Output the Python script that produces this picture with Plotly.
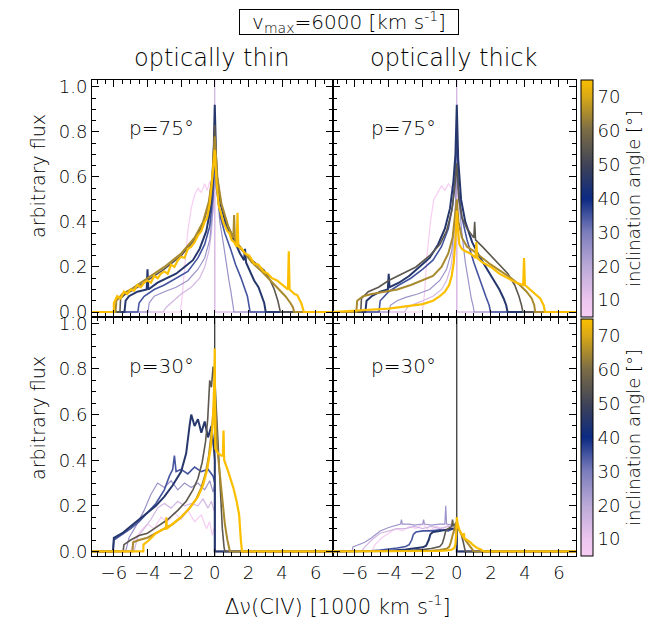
import plotly.graph_objects as go
from plotly.subplots import make_subplots
from plotly.colors import sample_colorscale

FONT = "DejaVu Sans"
WEIGHT = 200

# inclination angles of the plotted profiles [deg]
angles = [5, 15, 25, 35, 45, 55, 65, 75]
line_widths = [1.2, 1.2, 1.2, 1.6, 2.0, 1.6, 2.0, 2.2]

# ---------------- optically thin, p = 75 ----------------
thin75_x = [
    [-7.3, -2.05, -1.95, -1.8, -1.6, -1.4, -1.2, -1.0, -0.8, -0.6, -0.45, -0.3, -0.15, -0.05, 0, 0, 7.0],
    [-7.3, -3.07, -2.9, -2.6, -2.0, -1.4, -0.9, -0.6, -0.35, -0.2, -0.1, -0.03, 0, 0, 7.0],
    [-7.3, -3.97, -3.9, -3.6, -3.0, -2.3, -1.6, -1.0, -0.6, -0.3, -0.12, 0, 0.14, 0.3, 0.54, 0.7, 0.84, 0.96, 1.04, 1.14, 7.0],
    [-7.3, -4.57, -4.5, -4.2, -3.6, -3.0, -2.3, -1.6, -1.0, -0.6, -0.3, -0.1, 0, 0.1, 0.34, 0.6, 0.94, 1.24, 1.54, 1.8, 1.94, 2.1, 7.0],
    [-7.3, -5.37, -5.3, -5.1, -4.6, -4.05, -4.0, -3.95, -3.4, -2.8, -2.3, -1.8, -1.3, -0.9, -0.5, -0.25, -0.1, 0, 0.1, 0.34, 0.7, 1.14, 1.5, 1.74, 1.8, 1.86, 2.1, 2.34, 2.6, 2.74, 2.94, 3.03, 7.0],
    [-7.3, -5.64, -5.6, -5.3, -4.8, -4.0, -3.0, -2.0, -1.2, -0.7, -0.35, -0.15, 0, 0.15, 0.4, 0.8, 1.3, 1.9, 2.5, 2.94, 3.3, 3.54, 3.75, 3.9, 7.0],
    [-7.3, -5.9, -5.85, -5.5, -5.0, -4.0, -3.0, -2.0, -1.2, -0.7, -0.35, -0.15, 0, 0.15, 0.4, 0.8, 1.1, 1.15, 1.2, 1.6, 2.2, 2.8, 3.3, 3.8, 4.2, 4.5, 4.65, 4.72, 7.0],
    [-7.3, -6.0, -6.0, -5.8, -5.6, -5.4, -5.2, -5.0, -4.8, -4.6, -4.4, -4.2, -4.0, -3.8, -3.6, -3.4, -3.2, -3.0, -2.8, -2.6, -2.4, -2.2, -2.0, -1.8, -1.6, -1.4, -1.2, -1.0, -0.8, -0.6,
     -0.45, -0.3, -0.2, -0.1, 0, 0.1, 0.24, 0.4, 0.5, 0.62, 0.74, 0.87, 1.0, 1.15, 1.3, 1.35, 1.4,
     1.6, 1.8, 2.05, 2.34, 2.6, 2.9, 3.15, 3.4, 3.7, 3.94, 4.15, 4.35, 4.4, 4.45, 4.6, 4.74, 4.9, 5.0, 5.14, 5.3, 7.0],
]
thin75_y = [
    [0, 0, 0.06, 0.2, 0.36, 0.46, 0.52, 0.55, 0.53, 0.57, 0.54, 0.58, 0.55, 0.6, 0.62, 0, 0],
    [0, 0, 0.02, 0.04, 0.08, 0.11, 0.15, 0.2, 0.27, 0.35, 0.46, 0.7, 1.1, 0, 0],
    [0, 0, 0.04, 0.07, 0.09, 0.11, 0.14, 0.19, 0.24, 0.32, 0.45, 0.66, 0.54, 0.4, 0.29, 0.2, 0.14, 0.09, 0.05, 0, 0],
    [0, 0, 0.04, 0.07, 0.1, 0.12, 0.15, 0.18, 0.24, 0.3, 0.38, 0.52, 0.7, 0.55, 0.42, 0.35, 0.28, 0.21, 0.155, 0.1, 0.07, 0, 0],
    [0, 0, 0.05, 0.07, 0.09, 0.1, 0.19, 0.1, 0.13, 0.15, 0.17, 0.2, 0.23, 0.28, 0.36, 0.46, 0.6, 0.92, 0.62, 0.48, 0.38, 0.32, 0.26, 0.23, 0.28, 0.22, 0.18, 0.14, 0.11, 0.08, 0.04, 0, 0],
    [0, 0, 0.06, 0.08, 0.1, 0.14, 0.19, 0.25, 0.32, 0.39, 0.48, 0.6, 0.83, 0.58, 0.47, 0.38, 0.3, 0.25, 0.21, 0.185, 0.14, 0.1, 0.05, 0, 0],
    [0, 0, 0.05, 0.08, 0.1, 0.15, 0.2, 0.26, 0.33, 0.4, 0.49, 0.6, 0.78, 0.6, 0.48, 0.38, 0.33, 0.43, 0.32, 0.28, 0.22, 0.18, 0.14, 0.1, 0.07, 0.04, 0.02, 0, 0],
    [0, 0, 0.04, 0.07, 0.06, 0.09, 0.08, 0.1, 0.095, 0.12, 0.11, 0.13, 0.14, 0.13, 0.16, 0.15, 0.17, 0.18, 0.17, 0.21, 0.2, 0.23, 0.245, 0.24, 0.28, 0.29, 0.31, 0.34, 0.36, 0.4,
     0.42, 0.48, 0.55, 0.62, 0.72, 0.58, 0.47, 0.43, 0.4, 0.38, 0.36, 0.35, 0.32, 0.31, 0.29, 0.44, 0.29,
     0.28, 0.26, 0.25, 0.215, 0.21, 0.18, 0.17, 0.15, 0.14, 0.125, 0.11, 0.1, 0.27, 0.1, 0.09, 0.08, 0.075, 0.06, 0.04, 0, 0],
]

# ---------------- optically thick, p = 75 ----------------
thick75_x = [
    [-7.3, -2.02, -1.9, -1.75, -1.55, -1.35, -1.12, -0.9, -0.7, -0.5, -0.3, -0.15, -0.05, 0, 0, 7.0],
    [-7.3, -3.07, -2.9, -2.5, -2.0, -1.4, -0.9, -0.6, -0.35, -0.2, -0.1, -0.03, 0, 0, 7.0],
    [-7.3, -3.97, -3.9, -3.5, -3.0, -2.3, -1.6, -1.0, -0.6, -0.3, -0.12, 0, 0.12, 0.3, 0.5, 0.7, 0.85, 0.95, 1.02, 7.0],
    [-7.3, -4.57, -4.5, -4.0, -3.4, -2.7, -2.0, -1.4, -0.9, -0.5, -0.25, -0.1, 0, 0.1, 0.3, 0.6, 1.0, 1.4, 1.7, 1.9, 1.98, 7.0],
    [-7.3, -5.37, -5.3, -5.0, -4.5, -4.05, -4.0, -3.95, -3.4, -2.8, -2.2, -1.6, -1.1, -0.7, -0.4, -0.2, -0.08, 0, 0.08, 0.25, 0.5, 0.9, 1.3, 1.7, 2.1, 2.5, 2.75, 2.9, 2.98, 7.0],
    [-7.3, -5.64, -5.6, -5.2, -4.6, -4.0, -3.2, -2.4, -1.6, -1.0, -0.6, -0.3, -0.12, 0, 0.12, 0.3, 0.6, 1.0, 1.05, 1.1, 1.5, 2.0, 2.5, 3.0, 3.4, 3.65, 3.8, 3.88, 7.0],
    [-7.3, -5.9, -5.85, -5.5, -5.0, -4.3, -3.5, -2.7, -2.0, -1.4, -0.9, -0.5, -0.25, -0.1, 0, 0.1, 0.3, 0.6, 1.0, 1.5, 2.0, 2.6, 3.2, 3.7, 4.1, 4.4, 4.55, 4.6, 7.0],
    [-7.3, -6.0, -5.0, -4.0, -3.0, -2.0, -1.4, -1.0, -0.7, -0.45, -0.3, -0.18, -0.08, 0, 0.05, 0.15, 0.3, 0.5, 0.8, 1.1, 1.15, 1.2, 1.5, 2.0, 2.5, 3.0, 3.5, 3.9, 3.95, 4.0, 4.3, 4.6, 4.9, 5.1, 5.18, 7.0],
]
thick75_y = [
    [0, 0, 0.08, 0.25, 0.4, 0.5, 0.53, 0.56, 0.54, 0.57, 0.55, 0.58, 0.57, 0.6, 0, 0],
    [0, 0, 0.02, 0.035, 0.05, 0.07, 0.1, 0.14, 0.2, 0.28, 0.4, 0.65, 1.1, 0, 0],
    [0, 0, 0.03, 0.05, 0.065, 0.08, 0.1, 0.14, 0.19, 0.27, 0.4, 0.62, 0.5, 0.35, 0.22, 0.12, 0.06, 0.03, 0, 0],
    [0, 0, 0.05, 0.09, 0.12, 0.15, 0.19, 0.23, 0.29, 0.37, 0.47, 0.6, 0.8, 0.55, 0.42, 0.32, 0.22, 0.13, 0.07, 0.03, 0, 0],
    [0, 0, 0.05, 0.07, 0.09, 0.1, 0.17, 0.11, 0.13, 0.16, 0.2, 0.24, 0.3, 0.37, 0.46, 0.58, 0.7, 0.92, 0.68, 0.5, 0.4, 0.31, 0.25, 0.2, 0.15, 0.1, 0.06, 0.03, 0, 0],
    [0, 0, 0.06, 0.09, 0.11, 0.14, 0.17, 0.2, 0.25, 0.3, 0.36, 0.45, 0.55, 0.66, 0.5, 0.42, 0.37, 0.33, 0.4, 0.32, 0.29, 0.25, 0.21, 0.17, 0.12, 0.07, 0.03, 0, 0],
    [0, 0, 0.05, 0.07, 0.08, 0.09, 0.1, 0.12, 0.14, 0.16, 0.2, 0.26, 0.33, 0.42, 0.5, 0.4, 0.33, 0.29, 0.27, 0.24, 0.21, 0.18, 0.15, 0.12, 0.09, 0.06, 0.03, 0, 0],
    [0, 0.005, 0.01, 0.015, 0.025, 0.035, 0.05, 0.07, 0.09, 0.12, 0.16, 0.22, 0.32, 0.45, 0.38, 0.3, 0.28, 0.27, 0.26, 0.24, 0.31, 0.24, 0.22, 0.2, 0.17, 0.15, 0.13, 0.12, 0.24, 0.12, 0.1, 0.08, 0.06, 0.03, 0, 0],
]

# ---------------- optically thin, p = 30 ----------------
thin30_x = [
    [-7.3, -5.0, -4.8, -4.4, -4.0, -3.6, -3.2, -2.8, -2.4, -2.0, -1.6, -1.2, -0.8, -0.5, -0.3, -0.15, -0.05, 0, 0, 7.0],
    [-7.3, -4.8, -4.6, -4.2, -3.8, -3.4, -3.0, -2.6, -2.2, -1.8, -1.4, -1.0, -0.7, -0.4, -0.2, -0.05, 0, 0, 7.0],
    [-7.3, -5.3, -5.1, -4.7, -4.2, -3.8, -3.4, -3.0, -2.6, -2.2, -1.8, -1.4, -1.0, -0.6, -0.3, -0.1, 0, 0, 7.0],
    [-7.3, -6.05, -6.0, -5.6, -5.0, -4.5, -4.0, -3.5, -3.0, -2.7, -2.5, -2.4, -2.3, -2.0, -1.6, -1.2, -0.8, -0.4, -0.1, 0, 0, 7.0],
    [-7.3, -6.05, -6.0, -5.5, -5.0, -4.5, -4.0, -3.5, -3.0, -2.5, -2.0, -1.7, -1.5, -1.4, -1.2, -1.0, -0.8, -0.6, -0.4, -0.2, -0.05, 0, 0, 7.0],
    [-7.3, -5.45, -5.4, -5.0, -4.5, -4.0, -3.4, -2.8, -2.2, -1.7, -1.3, -1.0, -0.75, -0.55, -0.42, -0.35, -0.3, -0.2, -0.1, 0, 0.15, 0.3, 0.45, 0.55, 0.6, 7.0],
    [-7.3, -4.9, -4.85, -4.5, -4.0, -3.5, -3.0, -2.5, -2.0, -1.5, -1.1, -0.8, -0.55, -0.35, -0.2, -0.08, 0, 0.15, 0.4, 0.6, 0.75, 0.85, 0.9, 7.0],
    [-7.3, -4.25, -4.24, -3.9, -3.5, -3.0, -2.9, -2.88, -2.85, -2.5, -2.0, -1.5, -1.0, -0.7, -0.45, -0.25, -0.12, -0.04, 0, 0.03, 0.2, 0.4, 0.48, 0.52, 0.56, 0.8, 1.1, 1.3, 1.45, 1.55, 1.62, 7.0],
]
thin30_y = [
    [0, 0, 0.05, 0.09, 0.12, 0.1, 0.15, 0.13, 0.17, 0.14, 0.18, 0.13, 0.16, 0.1, 0.13, 0.07, 0.1, 0.08, 0, 0],
    [0, 0, 0.06, 0.1, 0.14, 0.19, 0.21, 0.19, 0.22, 0.2, 0.21, 0.2, 0.23, 0.19, 0.22, 0.18, 0.2, 0, 0],
    [0, 0, 0.06, 0.11, 0.18, 0.25, 0.3, 0.28, 0.31, 0.27, 0.3, 0.28, 0.3, 0.27, 0.31, 0.26, 0.3, 0, 0],
    [0, 0, 0.05, 0.07, 0.1, 0.13, 0.17, 0.21, 0.27, 0.33, 0.36, 0.42, 0.35, 0.36, 0.34, 0.37, 0.35, 0.36, 0.33, 0.3, 0, 0],
    [0, 0, 0.06, 0.08, 0.11, 0.14, 0.17, 0.2, 0.24, 0.29, 0.35, 0.43, 0.55, 0.6, 0.55, 0.58, 0.52, 0.57, 0.5, 0.55, 0.45, 0.4, 0, 0],
    [0, 0, 0.03, 0.05, 0.07, 0.08, 0.11, 0.14, 0.18, 0.22, 0.27, 0.32, 0.39, 0.48, 0.58, 0.7, 0.75, 0.72, 0.81, 0.76, 0.55, 0.3, 0.1, 0.02, 0, 0],
    [0, 0, 0.04, 0.05, 0.06, 0.08, 0.1, 0.12, 0.15, 0.19, 0.23, 0.28, 0.34, 0.42, 0.52, 0.62, 0.68, 0.45, 0.25, 0.12, 0.05, 0.01, 0, 0],
    [0, 0, 0.03, 0.05, 0.08, 0.1, 0.1, 0.15, 0.1, 0.12, 0.15, 0.19, 0.24, 0.29, 0.36, 0.45, 0.56, 0.72, 0.89, 0.45, 0.43, 0.42, 0.42, 0.53, 0.4, 0.35, 0.28, 0.22, 0.16, 0.05, 0, 0],
]

# ---------------- optically thick, p = 30 ----------------
thick30_x = [
    [-7.3, -5.0, -4.8, -4.4, -4.0, -3.6, -3.2, -2.8, -2.4, -2.0, -1.6, -1.2, -0.8, -0.4, -0.15, 0, 0, 7.0],
    [-7.3, -5.6, -5.4, -5.0, -4.5, -4.0, -3.5, -3.0, -2.5, -2.0, -1.5, -1.0, -0.5, -0.2, 0, 0, 7.0],
    [-7.3, -6.15, -6.1, -5.8, -5.4, -5.0, -4.5, -4.0, -3.6, -3.3, -3.25, -3.2, -2.8, -2.5, -2.0, -1.95, -1.9, -1.5, -1.0, -0.7, -0.65, -0.6, -0.3, 0, 0, 7.0],
    [-7.3, -5.3, -5.0, -4.5, -4.0, -3.5, -3.0, -2.8, -2.65, -2.55, -2.4, -2.0, -1.5, -1.0, -0.5, -0.2, 0, 0, 7.0],
    [-7.3, -4.5, -4.0, -3.0, -2.5, -2.0, -1.8, -1.65, -1.55, -1.4, -1.0, -0.6, -0.3, 0, 0, 7.0],
    [-7.3, -3.5, -3.0, -2.0, -1.5, -1.0, -0.85, -0.75, -0.65, -0.5, -0.3, -0.25, -0.2, -0.1, 0, 0.1, 0.25, 0.38, 0.45, 0.5, 7.0],
    [-7.3, -2.5, -1.5, -1.0, -0.6, -0.45, -0.35, -0.25, -0.15, -0.05, 0, 0.1, 0.3, 0.5, 0.7, 0.85, 1.0, 7.0],
    [-7.3, -1.5, -1.0, -0.6, -0.3, -0.15, -0.08, -0.03, 0, 0.05, 0.16, 0.3, 0.4, 0.42, 0.44, 0.6, 0.8, 0.96, 1.2, 1.46, 1.56, 7.0],
]
thick30_y = [
    [0, 0, 0.03, 0.06, 0.08, 0.1, 0.09, 0.11, 0.1, 0.12, 0.09, 0.11, 0.1, 0.12, 0.08, 0.1, 0, 0],
    [0, 0, 0.02, 0.05, 0.08, 0.09, 0.1, 0.1, 0.11, 0.1, 0.11, 0.1, 0.11, 0.1, 0.11, 0, 0],
    [0, 0, 0.02, 0.03, 0.04, 0.06, 0.09, 0.105, 0.115, 0.12, 0.14, 0.12, 0.12, 0.115, 0.12, 0.14, 0.12, 0.115, 0.12, 0.12, 0.2, 0.12, 0.115, 0.12, 0, 0],
    [0, 0, 0.003, 0.006, 0.01, 0.015, 0.022, 0.03, 0.05, 0.075, 0.085, 0.09, 0.09, 0.095, 0.09, 0.1, 0.1, 0, 0],
    [0, 0, 0.003, 0.008, 0.012, 0.018, 0.025, 0.05, 0.075, 0.085, 0.09, 0.095, 0.1, 0.1, 0, 0],
    [0, 0, 0.003, 0.008, 0.013, 0.022, 0.035, 0.06, 0.09, 0.1, 0.11, 0.14, 0.11, 0.12, 0.13, 0.1, 0.08, 0.04, 0.01, 0, 0],
    [0, 0, 0.003, 0.006, 0.012, 0.02, 0.04, 0.07, 0.1, 0.12, 0.13, 0.1, 0.07, 0.05, 0.03, 0.01, 0, 0],
    [0, 0, 0.002, 0.004, 0.008, 0.015, 0.03, 0.08, 0.15, 0.12, 0.093, 0.075, 0.06, 0.08, 0.058, 0.05, 0.04, 0.027, 0.015, 0.007, 0, 0],
]

panel_labels = ["p=75°", "p=75°", "p=30°", "p=30°"]
column_titles = ["optically thin", "optically thick"]
x_ticks = [-6, -4, -2, 0, 2, 4, 6]
y_ticks = [0.0, 0.2, 0.4, 0.6, 0.8, 1.0]
cbar_ticks = [10, 20, 30, 40, 50, 60, 70]

colorscale = [
    [0.0, "#f7cdf3"],
    [0.07, "#ecc6ee"],
    [0.21, "#bcaad8"],
    [0.36, "#7a7cbb"],
    [0.5, "#0b2a82"],
    [0.64, "#3f4358"],
    [0.79, "#7c6d46"],
    [0.93, "#d9a917"],
    [1.0, "#fbbf00"],
]
amin, amax = 5, 75
line_colors = sample_colorscale(colorscale, [(a - amin) / (amax - amin) for a in angles])

fig = make_subplots(rows=2, cols=2, horizontal_spacing=0, vertical_spacing=0)

panels = [(thin75_x, thin75_y, 1, 1), (thick75_x, thick75_y, 1, 2),
          (thin30_x, thin30_y, 2, 1), (thick30_x, thick30_y, 2, 2)]

# zero-velocity reference lines in the lower panels
for c in (1, 2):
    fig.add_trace(go.Scatter(x=[0, 0], y=[-0.05, 1.1], mode="lines",
                             line=dict(color="black", width=1),
                             showlegend=False, hoverinfo="skip"), row=2, col=c)

for xs, ys, r, c in panels:
    for i, a in enumerate(angles):
        fig.add_trace(go.Scatter(x=xs[i], y=ys[i], mode="lines",
                                 line=dict(color=line_colors[i], width=line_widths[i]),
                                 showlegend=False, name=f"i={a}°"), row=r, col=c)

# dummy traces to carry the two colour bars
for r, ca in ((1, "coloraxis"), (2, "coloraxis2")):
    fig.add_trace(go.Scatter(x=[None, None], y=[None, None], mode="markers",
                             marker=dict(color=[amin, amax], coloraxis=ca, size=1),
                             showlegend=False, hoverinfo="skip"), row=r, col=2)

# the page adds an 8 px body margin: work in page pixels, convert to figure pixels
OFF = 8
W, H = 670 - OFF, 633 - OFF
L, T = 92 - OFF, 80 - OFF
R, B = W - (576 - OFF), H - (556 - OFF)
pw, ph = W - L - R, H - T - B


def px(xp):
    return (xp - OFF - L) / pw


def py(yp):
    return 1 - (yp - OFF - T) / ph


xsplit = 240.5 / pw
ysplit = 1 - 236.5 / ph

tfont = dict(family=FONT, size=18, color="black", weight=WEIGHT)
axis_common = dict(showline=True, linecolor="black", linewidth=1, mirror="allticks",
                   ticks="inside", ticklen=7, tickwidth=1, tickcolor="black",
                   showgrid=False, zeroline=False, tickfont=tfont)

xaxis_kw = dict(axis_common, range=[-7.3, 7.0], tickvals=x_ticks,
                minor=dict(ticks="inside", ticklen=4, tickcolor="black", dtick=0.5, tick0=0))
yaxis_kw = dict(axis_common, range=[-0.02, 1.03], tickvals=y_ticks, tickformat=".1f",
                minor=dict(ticks="inside", ticklen=4, tickcolor="black", dtick=0.05, tick0=0))

fig.update_layout(
    xaxis=dict(xaxis_kw, domain=[0, xsplit], showticklabels=False),
    xaxis2=dict(xaxis_kw, domain=[xsplit, 1], showticklabels=False),
    xaxis3=dict(xaxis_kw, domain=[0, xsplit]),
    xaxis4=dict(xaxis_kw, domain=[xsplit, 1]),
    yaxis=dict(yaxis_kw, domain=[ysplit, 1]),
    yaxis2=dict(yaxis_kw, domain=[ysplit, 1], showticklabels=False),
    yaxis3=dict(yaxis_kw, domain=[0, ysplit]),
    yaxis4=dict(yaxis_kw, domain=[0, ysplit], showticklabels=False),
)

cb_common = dict(thickness=12, thicknessmode="pixels", lenmode="fraction",
                 len=(ph / 2 - 1) / ph, x=px(581), xanchor="left", xpad=0, ypad=0,
                 outlinewidth=1, outlinecolor="black", tickvals=cbar_ticks, ticks="",
                 tickfont=tfont,
                 title=dict(text="inclination angle [°]", side="right",
                            font=dict(family=FONT, size=18, color="black", weight=WEIGHT)))

fig.update_layout(
    coloraxis=dict(colorscale=colorscale, cmin=amin, cmax=amax,
                   colorbar=dict(cb_common, y=py(198.5), yanchor="middle")),
    coloraxis2=dict(colorscale=colorscale, cmin=amin, cmax=amax,
                    colorbar=dict(cb_common, y=py(437.5), yanchor="middle")),
)

ann = []
# title box
ann.append(dict(text="v<sub>max</sub>=6000 [km s<sup>-1</sup>]", xref="paper", yref="paper",
                x=px(348.5), y=py(22), xanchor="center", yanchor="middle",
                width=218, height=24, showarrow=False, bordercolor="black", borderwidth=1,
                borderpad=0, font=dict(family=FONT, size=20, color="black", weight=WEIGHT)))
for k, cx in enumerate((212, 454)):
    ann.append(dict(text=column_titles[k], xref="paper", yref="paper",
                    x=px(cx), y=py(58), xanchor="center", yanchor="middle",
                    showarrow=False, font=dict(family=FONT, size=24, color="black", weight=WEIGHT)))
axn = ["", "2", "3", "4"]
for k in range(4):
    ann.append(dict(text=panel_labels[k], xref="x" + axn[k], yref="y" + axn[k],
                    x=-3.15, y=0.815, xanchor="center", yanchor="middle", showarrow=False,
                    font=dict(family=FONT, size=20, color="black", weight=WEIGHT)))
for cy in (176, 418):
    ann.append(dict(text="arbitrary flux", xref="paper", yref="paper",
                    x=px(38), y=py(cy), xanchor="center", yanchor="middle",
                    textangle=-90, showarrow=False,
                    font=dict(family=FONT, size=19, color="black", weight=WEIGHT)))
ann.append(dict(text="Δν(CIV) [1000 km s<sup>-1</sup>]", xref="paper", yref="paper",
                x=px(338), y=py(605), xanchor="center", yanchor="middle",
                showarrow=False, font=dict(family=FONT, size=21, color="black", weight=WEIGHT)))

fig.update_layout(
    width=W, height=H, margin=dict(l=L, r=R, t=T, b=B, autoexpand=False),
    paper_bgcolor="white", plot_bgcolor="white",
    font=dict(family=FONT, color="black", weight=WEIGHT),
    annotations=ann, showlegend=False,
)

fig.write_html("out.html")
